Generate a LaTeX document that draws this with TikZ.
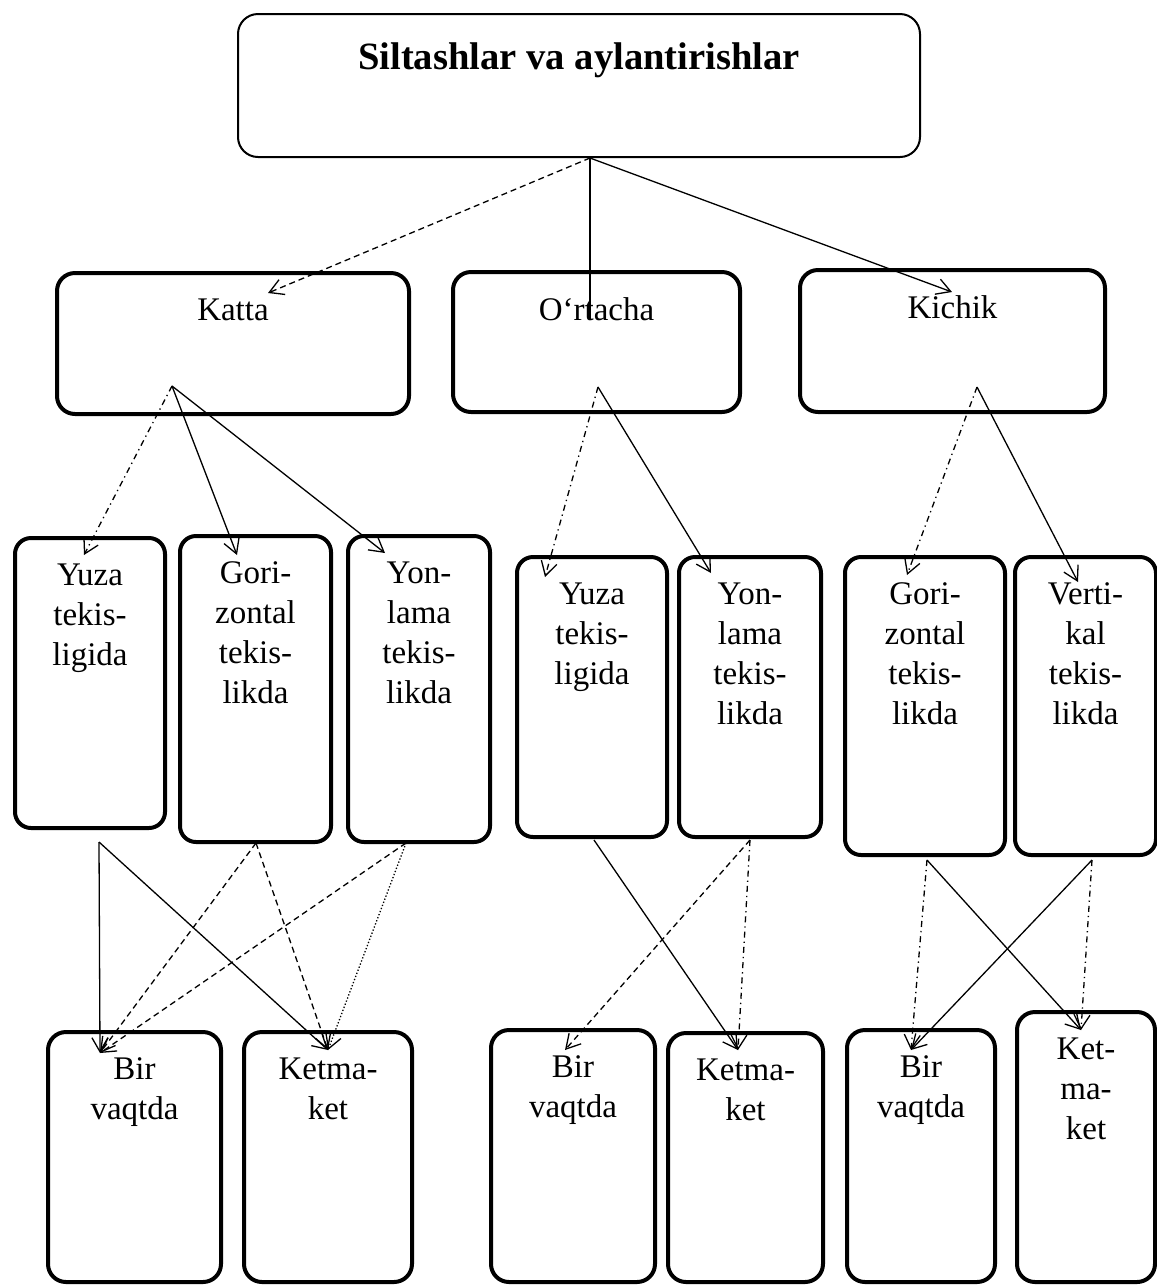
\documentclass[tikz,border=0pt]{standalone}
\usepackage{fontspec}
\setmainfont{Liberation Serif}
\usetikzlibrary{arrows.meta,fit}

\begin{document}
\begin{tikzpicture}[x=0.5pt,y=-0.5pt,>={Straight Barb[length=7pt,width=8pt]},
    box/.style={draw,line width=2pt,rounded corners=8pt,inner sep=0pt},
    txt/.style={anchor=north,align=center,inner sep=0pt,yshift=-13.5pt,font=\fontsize{16.5}{20}\selectfont},
    link/.style={->,line width=0.65pt}]
  \useasboundingbox (0,0) rectangle (1157,1287);
  % title
  \node[box,line width=1pt,rounded corners=10pt,fit={(238,14) (920,157)},
    label={[txt,yshift=-1pt,font=\bfseries\fontsize{19.3}{23}\selectfont]north:{Siltashlar va aylantirishlar}}] (title) {};
  % first level
  \node[box,rounded corners=9pt,fit={(57,273) (409,414)},label={[txt]north:{Katta}}] (katta) {};
  \node[box,rounded corners=9pt,fit={(453,272) (740,412)},label={[txt]north:{O‘rtacha}}] (ortacha) {};
  \node[box,rounded corners=9pt,fit={(800,270) (1105,412)},label={[txt]north:{Kichik}}] (kichik) {};
  % second level
  \node[box,fit={(15,538) (165,828)},label={[txt]north:{Yuza\\tekis-\\ligida}}] (yuzaA) {};
  \node[box,fit={(180,536) (331,842)},label={[txt]north:{Gori-\\zontal\\tekis-\\likda}}] (goriA) {};
  \node[box,fit={(348,536) (490,842)},label={[txt]north:{Yon-\\lama\\tekis-\\likda}}] (yonA) {};
  \node[box,fit={(517,557) (667,837)},label={[txt]north:{Yuza\\tekis-\\ligida}}] (yuzaB) {};
  \node[box,fit={(679,557) (821,837)},label={[txt]north:{Yon-\\lama\\tekis-\\likda}}] (yonB) {};
  \node[box,fit={(845,557) (1005,855)},label={[txt]north:{Gori-\\zontal\\tekis-\\likda}}] (goriC) {};
  \node[box,fit={(1015,557) (1156,855)},label={[txt]north:{Verti-\\kal\\tekis-\\likda}}] (vertiC) {};
  % third level
  \node[box,rounded corners=9pt,fit={(48,1032) (221,1282)},label={[txt]north:{Bir\\vaqtda}}] (birA) {};
  \node[box,rounded corners=9pt,fit={(244,1032) (412,1282)},label={[txt]north:{Ketma-\\ket}}] (ketA) {};
  \node[box,rounded corners=9pt,fit={(491,1030) (655,1282)},label={[txt]north:{Bir\\vaqtda}}] (birB) {};
  \node[box,rounded corners=9pt,fit={(668,1033) (823,1282)},label={[txt]north:{Ketma-\\ket}}] (ketB) {};
  \node[box,rounded corners=9pt,fit={(847,1030) (995,1282)},label={[txt]north:{Bir\\vaqtda}}] (birC) {};
  \node[box,rounded corners=9pt,fit={(1017,1012) (1155,1282)},label={[txt]north:{Ket-\\ma-\\ket}}] (ketC) {};
  % arrow ends
  \coordinate (title-out) at (590,158);
  \coordinate (katta-in) at (268,293);
  \coordinate (ortacha-in) at (590,320);
  \coordinate (kichik-in) at (952,292);
  \coordinate (katta-out) at (172,386);
  \coordinate (ortacha-out) at (598,387);
  \coordinate (kichik-out) at (977,387);
  \coordinate (yuzaA-in) at (84,555);
  \coordinate (goriA-in) at (237,555);
  \coordinate (yonA-in) at (385,553);
  \coordinate (yuzaB-in) at (545,577);
  \coordinate (yonB-in) at (711,573);
  \coordinate (goriC-in) at (907,575);
  \coordinate (vertiC-in) at (1078,582);
  \coordinate (yuzaA-out) at (99,842);
  \coordinate (goriA-out) at (256,843);
  \coordinate (yonA-out) at (406,843);
  \coordinate (yuzaB-out) at (594,840);
  \coordinate (yonB-out) at (750,840);
  \coordinate (goriC-out) at (927,860);
  \coordinate (vertiC-out) at (1092,860);
  \coordinate (birA-in) at (100,1053);
  \coordinate (ketA-in) at (328,1050);
  \coordinate (birB-in) at (565,1050);
  \coordinate (ketB-in) at (738,1050);
  \coordinate (birC-in) at (911,1050);
  \coordinate (ketC-in) at (1081,1030);
  % title to first level
  \draw[link,densely dashed] (title-out) -- (katta-in);
  \draw[line width=0.65pt] (title-out) -- (ortacha-in);
  \draw[link] (title-out) -- (kichik-in);
  % first to second level
  \draw[link,dash dot] (katta-out) -- (yuzaA-in);
  \draw[link] (katta-out) -- (goriA-in);
  \draw[link] (katta-out) -- (yonA-in);
  \draw[link,dash dot] (ortacha-out) -- (yuzaB-in);
  \draw[link] (ortacha-out) -- (yonB-in);
  \draw[link,dash dot] (kichik-out) -- (goriC-in);
  \draw[link] (kichik-out) -- (vertiC-in);
  % second to third level
  \draw[link] (yuzaA-out) -- (birA-in);
  \draw[link] (yuzaA-out) -- (ketA-in);
  \draw[link,densely dashed] (goriA-out) -- (birA-in);
  \draw[link,densely dashed] (goriA-out) -- (ketA-in);
  \draw[link,densely dashed] (yonA-out) -- (birA-in);
  \draw[link,densely dotted] (yonA-out) -- (ketA-in);
  \draw[link] (yuzaB-out) -- (ketB-in);
  \draw[link,densely dashed] (yonB-out) -- (birB-in);
  \draw[link,dash dot] (yonB-out) -- (ketB-in);
  \draw[link,dash dot] (goriC-out) -- (birC-in);
  \draw[link] (goriC-out) -- (ketC-in);
  \draw[link] (vertiC-out) -- (birC-in);
  \draw[link,dash dot] (vertiC-out) -- (ketC-in);
\end{tikzpicture}
\end{document}
